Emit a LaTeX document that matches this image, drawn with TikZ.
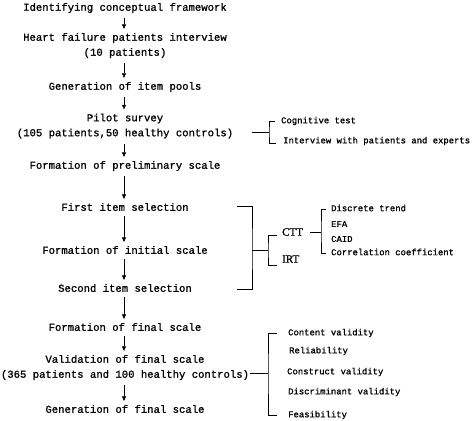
\documentclass[tikz,border=0pt]{standalone}
\usepackage{fontspec}
\setmainfont[RawFeature={embolden=1.1}]{Liberation Mono}
\newfontfamily\cttfont[RawFeature={embolden=1.0}]{Liberation Serif}
\usetikzlibrary{arrows.meta, positioning}

\begin{document}
\begin{tikzpicture}[
    x=1pt, y=-1pt,
    stage/.style={font=\fontsize{10.6}{15}\selectfont, align=center, inner sep=2pt},
    note/.style={font=\fontsize{8.9}{11}\selectfont, anchor=west, inner sep=0pt},
    method/.style={font=\cttfont\fontsize{11}{13}\selectfont, anchor=west, inner sep=0pt},
    flow/.style={-{Triangle[length=4.5pt,width=4pt]}, line width=0.5pt, shorten <=3pt, shorten >=2pt},
    brace/.style={line width=0.9pt},
]
    \useasboundingbox (0,0) rectangle (472,421);

    \node[stage] (s1) at (125,8) {Identifying conceptual framework};
    \node[stage] (s2) at (125,45.5) {Heart failure patients interview\\(10 patients)};
    \node[stage] (s3) at (125,87) {Generation of item pools};
    \node[stage] (s4) at (125,126) {Pilot survey\\(105 patients,50 healthy controls)};
    \node[stage] (s5) at (125,166) {Formation of preliminary scale};
    \node[stage] (s6) at (125,207) {First item selection};
    \node[stage] (s7) at (125,250) {Formation of initial scale};
    \node[stage] (s8) at (125,288) {Second item selection};
    \node[stage] (s9) at (125,327) {Formation of final scale};
    \node[stage] (s10) at (125,367.5) {Validation of final scale\\(365 patients and 100 healthy controls)};
    \node[stage] (s11) at (125,409) {Generation of final scale};

    \foreach \a/\b in {s1/s2, s2/s3, s3/s4, s4/s5, s5/s6, s6/s7, s7/s8, s8/s9, s9/s10, s10/s11}
        \draw[flow] ([xshift=-1pt]\a.south) -- ([xshift=-1pt]\b.north);

    % pilot survey
    \node[note] (cog) at (281,121) {Cognitive test};
    \node[note] (intv) at (283,141) {Interview with patients and experts};
    \coordinate (pj) at (269,132);
    \draw[brace] (pj) -- ++(-17,0);
    \draw[brace] ([xshift=-6pt]cog.west) -| (pj) |- ([xshift=-7pt,yshift=-2pt]intv.west);

    % item selection
    \node[method] (ctt) at (282,232) {CTT};
    \node[method] (irt) at (282,259) {IRT};
    \coordinate (ct) at (237,206);
    \coordinate (cb) at (237,289);
    \coordinate (cj) at (252,250);
    \coordinate (kj) at (268,250);
    \draw[brace] (ct) -| (cj) |- (cb);
    \draw[brace] (cj) -- (kj);
    \draw[brace] ([xshift=-5pt,yshift=-3pt]ctt.west) -| (kj) |- ([xshift=-5pt,yshift=-6pt]irt.west);

    \node[note] (dt) at (331,208) {Discrete trend};
    \node[note] (efa) at (331,224) {EFA};
    \node[note] (caid) at (331,239) {CAID};
    \node[note] (cc) at (331,252) {Correlation coefficient};
    \coordinate (dj) at (321,232);
    \draw[brace] (dj) -- ++(-11,0);
    \draw[brace] ([xshift=-5pt,yshift=-1pt]dt.west) -| (dj) |- ([xshift=-5pt,yshift=-1pt]cc.west);

    % validation
    \node[note] (cv) at (288,333) {Content validity};
    \node[note] (rel) at (289,351) {Reliability};
    \node[note] (cons) at (287,372) {Construct validity};
    \node[note] (dv) at (288,392) {Discriminant validity};
    \node[note] (fea) at (288,415) {Feasibility};
    \coordinate (vj) at (268,373);
    \draw[brace] (vj) -- ++(-18,0);
    \draw[brace] ([xshift=-11pt]cv.west) -| (vj) |- ([xshift=-11pt]fea.west);
\end{tikzpicture}
\end{document}
